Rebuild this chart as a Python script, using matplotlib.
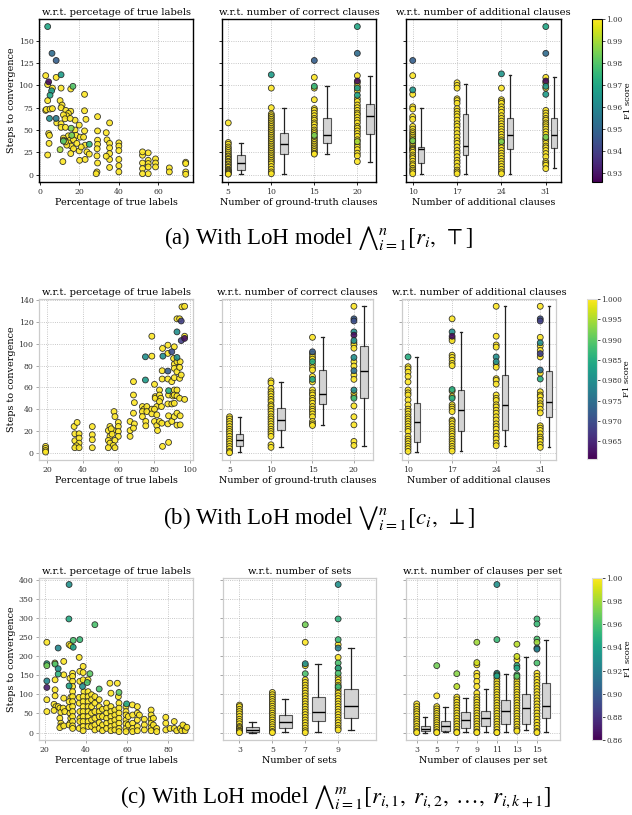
import numpy as np
import matplotlib
matplotlib.use('Agg')
import matplotlib.pyplot as plt
from matplotlib.colors import Normalize

plt.rcParams['font.family'] = 'DejaVu Serif'
plt.rcParams['mathtext.fontset'] = 'stix'

# ---------------- row (a): conjunction model ----------------
a_pct_pts = [(2.9,111),(3.9,101),(8.2,109),(6.3,97),(10.7,97),(15.6,96),(22.6,90),(3.9,83),(10.2,83),
             (2.9,72),(3.2,73),(5.1,73.5),(6.3,74),(11.2,78),(10.7,75),(13.1,72),(15.6,71),(22.6,71.6),
             (14.4,68.6),(13.5,66),(11.9,67),(23.3,62),(17.8,61),(12.7,62.6),(15.3,63),(8.5,58),(10.7,57),
             (19.9,55.5),(29.2,65),(35.3,58),(10.7,53),(12.9,53),(17.8,50),(22.6,49),(29.2,49),(4.4,46),
             (4.8,44),(14.4,43.5),(18.3,44),(20.4,42),(22.1,42),(11.9,41),(11.9,38.6),(15.2,38.6),(17,39),
             (33.6,47),(34,39),(40,35.6),(40,32),(40,27),(40,17),(40,10),(40,3),(35.3,35),(35.3,30),
             (35.3,23.6),(35.3,17),(35.3,8),(33.6,20.6),(29.2,38.6),(29.2,34),(29,29),(28.9,21),(29.2,13),
             (28.9,3),(28.5,1),(4.6,35),(3.9,22),(11.6,14.6),(14.4,35.6),(15.8,32),(17,29),(15.6,23.6),
             (19.9,26.6),(20.1,16),(22.9,17),(23.8,25.5),(25,23),(22.9,33),(20.9,31),(18.7,35),(13.6,33),
             (12.9,36.7),(52,13),(52,21.7),(52,25.5),(52,6.7),(52,1),(54.9,24.4),(54.9,16),(54.9,12.4),
             (54.9,8.6),(54.9,1),(58.6,17.6),(58.6,13),(58.6,8.6),(65.6,7.5),(65.6,3),(73.9,13.9),
             (73.9,12.4),(73.9,3),(73.9,0.4)]
a_pct_col = [(3.9,166,0.970),(6.1,136,0.952),(8.2,128,0.948),(10.7,112,0.967),(4.4,104,0.928),
             (5.9,94,0.967),(5.1,89,0.970),(16.7,99,0.980),(4.8,63,0.963),(8.2,63,0.956),(15.8,52,0.985),
             (16.1,44,0.985),(11.9,37.5,0.980),(10.2,28,0.990),(25,34,0.975)]

a_cls_cats = [5, 10, 15, 20]
a_cls_steps = [[58,36,34,31,29,27,25,23,21,20,18,17,15,14,12,11,9,8,6,5,4,3,2,1,0.5],
               [97,75,68,66,64,62,60,58,56,54,52,50,48,46,44,42,40,38,36,34,32,30,28,26,24,22,20,18,16,14,12,9,6,3,1],
               [109,97,84,74,72,69,66,63,61,58,56,53,50,48,46,42,40,38,36,34,32,30,28,26,24,23],
               [111,103,99,94,85,82,78,75,72,69,67,64,61,58,54,52,49,46,43,39,34,31,28,24,21,14.6]]
a_cls_col = [(10,112,0.967),(15,128,0.948),(15,99,0.975),(15,44,0.985),(20,166,0.970),(20,136,0.952),
             (20,105,0.928),(20,97,0.967),(20,89,0.970),(20,37,0.990)]
a_cls_q1 = [5.6, 23, 35, 45]
a_cls_med = [13.5, 34, 44, 66]
a_cls_q3 = [21.7, 47, 63, 79]
a_cls_lo = [0.5, 0.7, 23, 14.6]
a_cls_hi = [35.6, 75, 99, 111]

a_add_cats = [10, 17, 24, 31]
a_add_steps = [[111,90,76,73.5,65,62,54,51,48,46,44,42,40,38,36,34,32,30,29,28,27,25,22,20,18,15,12,10,7,5,3,1],
               [103,100,97,85,83,80,74,71,68,65,61,57,54,50,46,42,38,35,31,27,24,20,16,13,9,5,3,1],
               [97,84,82,80,76,73,70,66,63,60,57,54,51,48,45,42,39,36,33,30,27,24,21,18,15,12,9,6,3,1],
               [109,103,97,72,69,66,63,61,58,56,53.6,51,48,45,40,38,35,32,30,27,23.6,20,14.6,12.5,10.5,6.7]]
a_add_col = [(10,128,0.948),(10,95,0.965),(10,38,0.985),(24,113,0.965),(24,37,0.985),(31,166,0.970),
             (31,136,0.952),(31,105,0.928),(31,99,0.965),(31,90,0.967),(31,42,0.985)]
a_add_q1 = [13.5, 21.7, 29, 30]
a_add_med = [28.5, 32, 44, 44]
a_add_q3 = [31, 67.5, 64, 63]
a_add_lo = [0.4, 1, 1, 7.9]
a_add_hi = [75, 101.6, 112, 110]

# ---------------- row (b): disjunction model ----------------
b_pct_pts = [(19.2,5.8),(19.2,4),(19.2,2),(19.2,0.6),
             (35.2,24.1),(36.9,27.8),(35.6,17.4),(38,17.4),(35.6,11),(38,13.4),(38,8.8),(36.5,6.4),(35.6,4.6),(38,4.6),
             (45.4,24),(45.4,16.5),(45.4,11.9),(45.4,4.6),
             (57.6,37.8),(58.1,33.2),(55.3,24.1),(54.4,20.4),(57.2,20.4),(60,27.8),(60,24.1),(60,19.5),(60,15),
             (55.3,15),(54.4,11.3),(58.1,11.3),(55.3,8.8),(57.2,6.7),(54.4,4.6),(58.1,4.6),(56,22),(56.5,17),
             (68.5,65.3),(68.5,53),(69,46),(68.5,36.3),(66.6,28.7),(69,26.5),(66.6,20.4),(68.5,22.6),(66.6,15),
             (73.5,42.4),(74.5,40),(76,42.4),(73.5,37.8),(76,37.8),(73.5,33.2),(75.4,28.7),(75.4,24.7),
             (78.8,107),(78.8,88.7),(78.8,40),(78.8,35.7),
             (80.3,62.8),(80.7,51.5),(80.7,50),(81.6,42.4),(80.3,40),(81.6,34.8),(80.3,28.7),(81.6,25),(82,20.4),
             (83.1,57.6),(83.1,53),(83.8,50),(83.1,47),(84.2,42.4),(83.1,28.7),(84.4,27.1),(84.6,75.3),(84.6,67.7),
             (84.8,95.8),(84.8,5.8),
             (87.8,98.8),(87.8,91.2),(87.8,67.7),(88.2,53),(87.8,44.8),(88.2,33.9),(87.8,26.5),(88.2,9.5),
             (90,65.3),(90.6,52.1),(90,44.8),(90,28.7),(91.4,97.3),(91,86.6),(91.4,81.4),(91.4,77.5),(91.4,68.9),
             (91.4,57.6),(91.4,53),(91.4,45.4),(91.4,33.2),
             (92.9,123),(92.9,83.6),(92.9,74.4),(92.9,57.6),(92.9,52.1),(92.9,36.3),(92.9,25.3),(94.4,123),
             (94.7,83.6),(94.4,78.4),(94.4,68.3),(94.4,50),(94.7,33.9),(94.7,25.6),(95.3,71.4),(95.7,134),
             (97.2,134.5),(97.2,107),(97.2,49)]
b_pct_col = [(75.2,88.1,0.980),(75.2,66.8,0.982),(85,88.7,0.980),(87.8,75,0.972),(88.2,57,0.985),
             (90,92.7,0.970),(92.9,111,0.980),(92.9,87.5,0.980),(95.3,121,0.968),(95.3,103,0.968),(97.2,105,0.962)]

b_cls_cats = [5, 10, 15, 20]
b_cls_steps = [[33,31,28.7,26.5,24,21.6,19.5,17.4,15,12.5,10.4,8.2,5.8,3.7,1.2,0],
               [66,64,59,56,54,51.5,49,47,44,42.4,40,38,35.6,33,31,28.7,26.5,24,21.6,19.5,17.4,15,7.3,4.9],
               [106,90.6,88,86,81,78,76,70,65,57.6,55,53,50,48,45.5,42.4,40,38,35.6,33,28.7,26.5,25],
               [134.5,101,99,96,83.6,79.6,71.4,67.4,54.6,51.5,43,33,25.6,10.4,6.7]]
b_cls_col = [(15,92.7,0.972),(15,83.6,0.985),(15,67.4,0.985),(20,123,0.972),(20,121,0.970),(20,111,0.980),
             (20,108,0.962),(20,103,0.980),(20,87.5,0.980),(20,75.3,0.975),(20,57.6,0.980),(20,50,0.987)]
b_cls_q1 = [5.8, 20.4, 44.5, 50]
b_cls_med = [12, 29.6, 54, 75.3]
b_cls_q3 = [17, 40.9, 76, 98]
b_cls_lo = [0.6, 5, 25, 6.4]
b_cls_hi = [33, 65, 106, 134.5]

b_add_cats = [10, 17, 24, 31]
b_add_steps = [[79,77,74,70,65,57.6,55,53,48.5,43.9,40,38,35.6,33,31,28.7,26.5,24,21.6,19.5,15,12.5,10.4,8.2,5.8,3.7,1.2],
               [123,105,103,89.6,87.5,85,82,80,56.5,51.5,44,42,40,37.8,30,28.7,26.5,24,21.6,19.5,17.4,15,12.5,10.4,8.2,5.8,3.7,1.5],
               [134.5,107,99,97,81,78.5,68,66.5,63,53,50,48,44,42,39,36.3,33,30,26.5,24,21.6,18,15,12.5,8.8,6.4],
               [134.5,106,98,94,88,73,56,53,51.5,48,45,43,40,36.6,24.7,22.6,20.4,17.4,14.3,12.5,10.4,7.3,4.9]]
b_add_col = [(10,88,0.985),(17,111,0.980),(17,107,0.962),(17,58,0.985),(17,50,0.985),(24,88,0.980),
             (24,83.6,0.980),(31,123,0.970),(31,121,0.968),(31,101,0.980),(31,91,0.968),(31,76,0.975),(31,67.7,0.985)]
b_add_q1 = [9.8, 20, 21, 32.6]
b_add_med = [27.8, 39, 43.6, 46.6]
b_add_q3 = [46, 57.6, 71.4, 75.3]
b_add_lo = [0.6, 1.5, 6.4, 4.9]
b_add_hi = [88, 111, 134.5, 134.5]

# ---------------- row (c): conjunction of sets ----------------
c_pct_pts = [(21,236),(21,86),(21,55),
             (24.9,182),(25,138),(25,112),(25,96),(24.5,74),(25.4,68),(24.5,58),(26.5,68),(27.3,64),(27.8,53),
             (27.3,37.5),(27.8,24.5),(28.1,17.5),(27.3,13),(29.2,17.5),(28.9,64),(29.2,186),(29.2,151),(29.2,90),(29.7,55),
             (31.8,230),(32.6,227),(32.2,142),(32.6,92),(31.8,81),(31.8,65.5),(32.2,50.7),(32.6,37.5),(32.2,24.5),(31.8,20),
             (33.5,155),(33.5,147),(33.5,134),(33.5,120.5),(33.5,107),(33.5,94),(33.5,81),(33.5,68),(33.5,55),
             (33.5,42),(33.5,29),(33.5,17.5),(33.5,11),
             (36.7,196.5),(37,160),(37,134),(36.7,92),(36.7,77),(37,55),(37,37.5),(37,29),(36.7,11),
             (38.6,173),(38.6,157),(38.6,138),(39,107),(38.6,94),(38.6,81),(38.6,68),(38.6,55),(38.6,42),(38.6,29),
             (38.6,16),(38.6,5),
             (41,138),(41,107),(41,94),(41,81),(41,68),(41,55),(41,42),(41,29),(41,16),
             (42.7,99),(42.7,86),(42.7,68),(42.7,51),(42.7,33),(42.7,16),
             (44.3,94),(44.3,77),(44.3,55),(44.3,37.5),(44.3,20),(44.3,7),
             (46.4,86),(46.4,68),(46.4,55),(46.4,42),(46.4,26),(46.4,11),(48,61),(48,42),(48,20),(48,5),
             (51.6,129),(52.1,103),(50,77),(50,64),(50,51),(50,37.5),(50,24.5),(50,11),(52.1,68),(52.1,55),
             (52.1,42),(52.1,29),(52.1,16),(52.1,5),
             (54,59),(54,46),(54,33),(54,20),(54,7),(55.2,129),(55.7,94),(56,77),(56,64),(56,51),(56,37.5),
             (56,24.5),(56,11),(56,2.6),
             (59.4,68),(59.4,55),(59.4,46),(59.4,33),(59.4,23),(59.4,11),(59.4,2.6),(60.5,42),(60.5,20),
             (62.5,72.5),(62.6,46),(62.6,24.5),(62.6,11),(62.6,2.6),(64.9,68),(64.9,51),(64.9,33),(64.9,16),
             (64.9,5),(65.9,46),
             (68.3,35),(68.3,20),(68.3,7),(71.6,59),(71.6,46),(71.6,35),(71.6,24.5),(71.6,13),(71.6,5),
             (72.7,37.5),(72.7,20),(74.3,11),(74.3,2.6),
             (78.7,40),(78.7,24.5),(78.7,7),(80.8,11),(82.8,29),(82.8,11),(84,5),(85.7,11),(86.5,5),
             (87.6,16),(88.1,11),(88.1,5),(87,20),(88.9,14)]
c_pct_col = [(31.8,387,0.930),(31.7,297,0.945),(44.3,282,0.960),(33.8,241,0.960),(37,243,0.955),
             (33.8,223,0.940),(21,180,0.945),(21,175,0.970),(21,135,0.925),(21,118,0.870),(26.5,221,0.925),
             (25,179,0.960),(26.5,167,0.930),(26.5,153,0.950),(31.8,122,0.940),(38.3,120.5,0.930),
             (41.9,154,0.965),(40.6,131,0.960),(46.4,114,0.960),(56,105,0.965),(59.7,75,0.945)]

c_set_cats = [3, 5, 7, 9]
c_set_steps = [[72,68,61,55,49,42,35,29,23,16,13,10,6,3.5,0],
               [105,99,93,87,81,75,69,63,57,51,45,39,33,27,21,15,9,3,0],
               [236,175,138,131,124,117,110,103,96,89,82,75,68,61,54,47,40,33,26,19,12,5,0],
               [230,196.5,168,145,138,131,124,117,110,103,96,89,82,75,68,61,54,47,40,33,26,19,12,7]]
c_set_col = [(7,282,0.970),(7,180,0.930),(7,154,0.960),(9,387,0.930),(9,297,0.950),(9,243,0.955),
             (9,221,0.920),(9,182,0.960),(9,168.6,0.940),(9,155,0.960),(9,120,0.955)]
c_set_q1 = [2.6, 13, 31.4, 37.5]
c_set_med = [7, 29, 53, 70]
c_set_q3 = [14, 46, 92.6, 113.5]
c_set_lo = [0, 1, 2.6, 7]
c_set_hi = [29, 87, 180, 221]

c_per_cats = [3, 5, 7, 9, 11, 13, 15]
c_per_steps = [[75,68,61,55,49,42,35,29,23,16,10,3.5,0],
               [96,68,62,56,50,44,38,32,26,20,14,8,2,0],
               [92.6,86,79,72,65,58,51,44,37,30,23,16,9,2,0],
               [177,155,147,134,120.5,103,92.6,86,79,72,65,58,51,44,37,30,23,16,9,2,0],
               [142,134,127,120,113,106,99,92,85,78,71,64,57,50,43,36,29,22,15,8,1,0],
               [190,142,134,127,120,113,106,99,92,85,78,71,64,57,50,43,36,29,22,15,8,4],
               [155,147,139,131,123,115,107,99,91,83,75,67,59,51,43,35,27,19,11,3,0]]
c_per_col = [(5,175,0.970),(7,154,0.975),(7,120.5,0.985),(9,236,0.980),(9,183,0.990),(11,387,0.930),
             (11,243,0.955),(11,155,0.930),(11,151,0.960),(11,148,0.940),(13,231,0.985),(13,199,0.990),
             (13,175,0.950),(13,168.6,0.945),(13,151,0.960),(13,147,0.965),(15,297,0.955),(15,284,0.955),
             (15,244.5,0.960),(15,236,0.980),(15,221,0.930),(15,218,0.920),(15,182,0.960)]
c_per_q1 = [3.5, 5, 13, 18, 22.7, 22.7, 37.5]
c_per_med = [8.7, 18, 33, 39, 57, 65.5, 70.7]
c_per_q3 = [18, 31, 55, 57.6, 85.6, 101, 129]
c_per_lo = [0, 1, 1.7, 1.7, 1.7, 6, 1.7]
c_per_hi = [40, 68, 90, 114, 153, 197, 243]

W, H = 632, 815
fig = plt.figure(figsize=(W / 100, H / 100), dpi=100)

TITLE_FS = 7.2
LABEL_FS = 6.9
TICK_FS = 5.6


def px_axes(x0, x1, y0, y1):
    return fig.add_axes([x0 / W, 1 - y1 / H, (x1 - x0) / W, (y1 - y0) / H])


def style(ax, dark):
    spine_c = 'black' if dark else '#cccccc'
    for s in ax.spines.values():
        s.set_color(spine_c)
        s.set_linewidth(1.0 if dark else 0.9)
    ax.grid(True, ls=':', color='#b5b5b5', lw=0.6)
    ax.set_axisbelow(True)
    ax.tick_params(labelsize=TICK_FS, length=2.5, width=0.6, pad=1.5,
                   color='black' if dark else '#999999', labelcolor='#333333')


def scatter_pts(ax, xs, ys, cs, norm):
    ax.scatter(xs, ys, c=cs, cmap='viridis', norm=norm, s=18, edgecolors='#222222',
               linewidths=0.6, alpha=0.9, zorder=3)


def pct_panel(ax, pts, col, norm):
    xs = [p[0] for p in pts] + [p[0] for p in col]
    ys = [p[1] for p in pts] + [p[1] for p in col]
    cs = [1.0] * len(pts) + [p[2] for p in col]
    scatter_pts(ax, xs, ys, cs, norm)
    ax.set_title('w.r.t. percetage of true labels', fontsize=TITLE_FS, pad=3)
    ax.set_xlabel('Percentage of true labels', fontsize=LABEL_FS, labelpad=1.5)
    ax.set_ylabel('Steps to convergence', fontsize=LABEL_FS, labelpad=2)


def cat_panel(ax, cats, steps, col, q1, med, q3, lo, hi, off, width, norm):
    xs, ys = [], []
    for c, vals in zip(cats, steps):
        xs += [c] * len(vals)
        ys += vals
    cs = [1.0] * len(xs)
    xs += [p[0] for p in col]
    ys += [p[1] for p in col]
    cs += [p[2] for p in col]
    scatter_pts(ax, xs, ys, cs, norm)
    stats = [dict(q1=a, med=b, q3=c, whislo=d, whishi=e, fliers=[])
             for a, b, c, d, e in zip(q1, med, q3, lo, hi)]
    ax.bxp(stats, positions=[c + off for c in cats], widths=width, patch_artist=True,
           showfliers=False, manage_ticks=False,
           boxprops=dict(facecolor='#d3d3d3', edgecolor='#555555', lw=0.8),
           medianprops=dict(color='black', lw=1.0),
           whiskerprops=dict(color='#222222', lw=0.9),
           capprops=dict(color='#222222', lw=0.9))
    ax.set_xticks(cats)
    ax.set_xticklabels([str(c) for c in cats])
    ax.tick_params(labelleft=False)


def cbar(cax, norm, ticks, fmt, dark):
    sm = plt.cm.ScalarMappable(norm=norm, cmap='viridis')
    cb = fig.colorbar(sm, cax=cax, ticks=ticks, format=fmt)
    cb.outline.set_edgecolor('black' if dark else '#dddddd')
    cb.outline.set_linewidth(0.8)
    cb.ax.tick_params(labelsize=5.2, length=2, width=0.5, pad=1.0, labelcolor='#333333')
    cb.set_label('F1 score', fontsize=6.0, labelpad=1.0)


# ----- row a -----
norm_a = Normalize(0.926, 1.0)
ax = px_axes(39, 193, 19, 182)
style(ax, True)
pct_panel(ax, a_pct_pts, a_pct_col, norm_a)
ax.set_xlim(-0.5, 77.6); ax.set_ylim(-8.3, 174.5)
ax.set_xticks([0, 20, 40, 60]); ax.set_yticks([0, 25, 50, 75, 100, 125, 150])

ax = px_axes(222, 376, 19, 182)
style(ax, True)
cat_panel(ax, a_cls_cats, a_cls_steps, a_cls_col, a_cls_q1, a_cls_med, a_cls_q3, a_cls_lo, a_cls_hi,
          1.45, 0.95, norm_a)
ax.set_xlim(4.27, 22.17); ax.set_ylim(-8.3, 174.5); ax.set_yticks([0, 25, 50, 75, 100, 125, 150])
ax.set_title('w.r.t. number of correct clauses', fontsize=TITLE_FS, pad=3)
ax.set_xlabel('Number of ground-truth clauses', fontsize=LABEL_FS, labelpad=1.5)

ax = px_axes(406, 561, 19, 182)
style(ax, True)
cat_panel(ax, a_add_cats, a_add_steps, a_add_col, a_add_q1, a_add_med, a_add_q3, a_add_lo, a_add_hi,
          1.35, 0.9, norm_a)
ax.set_xlim(8.94, 33.4); ax.set_ylim(-8.3, 174.5); ax.set_yticks([0, 25, 50, 75, 100, 125, 150])
ax.set_title('w.r.t. number of additional clauses', fontsize=TITLE_FS, pad=3)
ax.set_xlabel('Number of additional clauses', fontsize=LABEL_FS, labelpad=1.5)

cbar(px_axes(592, 602, 19, 182), norm_a, [0.93, 0.94, 0.95, 0.96, 0.97, 0.98, 0.99, 1.00], '%.2f', True)

# ----- row b -----
norm_b = Normalize(0.9606, 1.0)
ax = px_axes(39, 193, 299, 460)
style(ax, False)
pct_panel(ax, b_pct_pts, b_pct_col, norm_b)
ax.set_xlim(15.5, 101.9); ax.set_ylim(-6.7, 141.2)
ax.set_xticks([20, 40, 60, 80, 100]); ax.set_yticks([0, 20, 40, 60, 80, 100, 120, 140])

ax = px_axes(222, 373, 299, 460)
style(ax, False)
cat_panel(ax, b_cls_cats, b_cls_steps, b_cls_col, b_cls_q1, b_cls_med, b_cls_q3, b_cls_lo, b_cls_hi,
          1.22, 0.88, norm_b)
ax.set_xlim(4.09, 22.3); ax.set_ylim(-6.7, 141.2); ax.set_yticks([0, 20, 40, 60, 80, 100, 120, 140])
ax.set_title('w.r.t. number of correct clauses', fontsize=TITLE_FS, pad=3)
ax.set_xlabel('Number of ground-truth clauses', fontsize=LABEL_FS, labelpad=1.5)

ax = px_axes(402, 556, 299, 460)
style(ax, False)
cat_panel(ax, b_add_cats, b_add_steps, b_add_col, b_add_q1, b_add_med, b_add_q3, b_add_lo, b_add_hi,
          1.4, 0.9, norm_b)
ax.set_xlim(9.04, 33.5); ax.set_ylim(-6.7, 141.2); ax.set_yticks([0, 20, 40, 60, 80, 100, 120, 140])
ax.set_title('w.r.t. number of additional clauses', fontsize=TITLE_FS, pad=3)
ax.set_xlabel('Number of additional clauses', fontsize=LABEL_FS, labelpad=1.5)

cbar(px_axes(587, 597, 299, 459), norm_b, [0.965, 0.970, 0.975, 0.980, 0.985, 0.990, 0.995, 1.000],
     '%.3f', False)

# ----- row c -----
norm_c = Normalize(0.86, 1.0)
ax = px_axes(39, 193, 578, 740)
style(ax, False)
pct_panel(ax, c_pct_pts, c_pct_col, norm_c)
ax.set_xlim(17.2, 91.9); ax.set_ylim(-19.3, 404)
ax.set_xticks([20, 40, 60, 80]); ax.set_yticks([0, 50, 100, 150, 200, 250, 300, 350, 400])

ax = px_axes(223, 376, 578, 740)
style(ax, False)
cat_panel(ax, c_set_cats, c_set_steps, c_set_col, c_set_q1, c_set_med, c_set_q3, c_set_lo, c_set_hi,
          0.78, 0.8, norm_c)
ax.set_xlim(2.0, 11.3); ax.set_ylim(-19.3, 404); ax.set_yticks([0, 50, 100, 150, 200, 250, 300, 350, 400])
ax.set_title('w.r.t. number of sets', fontsize=TITLE_FS, pad=3)
ax.set_xlabel('Number of sets', fontsize=LABEL_FS, labelpad=1.5)

ax = px_axes(406, 560, 578, 740)
style(ax, False)
cat_panel(ax, c_per_cats, c_per_steps, c_per_col, c_per_q1, c_per_med, c_per_q3, c_per_lo, c_per_hi,
          0.87, 0.82, norm_c)
ax.set_xlim(1.93, 17.3); ax.set_ylim(-19.3, 404); ax.set_yticks([0, 50, 100, 150, 200, 250, 300, 350, 400])
ax.set_title('w.r.t. number of clauses per set', fontsize=TITLE_FS, pad=3)
ax.set_xlabel('Number of clauses per set', fontsize=LABEL_FS, labelpad=1.5)

cbar(px_axes(592, 602, 578, 740), norm_c, [0.86, 0.88, 0.90, 0.92, 0.94, 0.96, 0.98, 1.00], '%.2f', False)

# ----- captions -----
cap_kw = dict(ha='center', va='center', fontsize=16.5, family='Liberation Serif')
fig.text(319 / W, 1 - 238 / H, r'(a) With LoH model $\bigwedge{}_{i=1}^{n}[r_i,\;\top]$', **cap_kw)
fig.text(319 / W, 1 - 518 / H, r'(b) With LoH model $\bigvee{}_{i=1}^{n}[c_i,\;\bot]$', **cap_kw)
fig.text(336 / W, 1 - 797 / H,
         r'(c) With LoH model $\bigwedge{}_{i=1}^{m}[r_{i,1},\;r_{i,2},\;\ldots,\;r_{i,k+1}]$', **cap_kw)

fig.savefig('out.png', dpi=100)
